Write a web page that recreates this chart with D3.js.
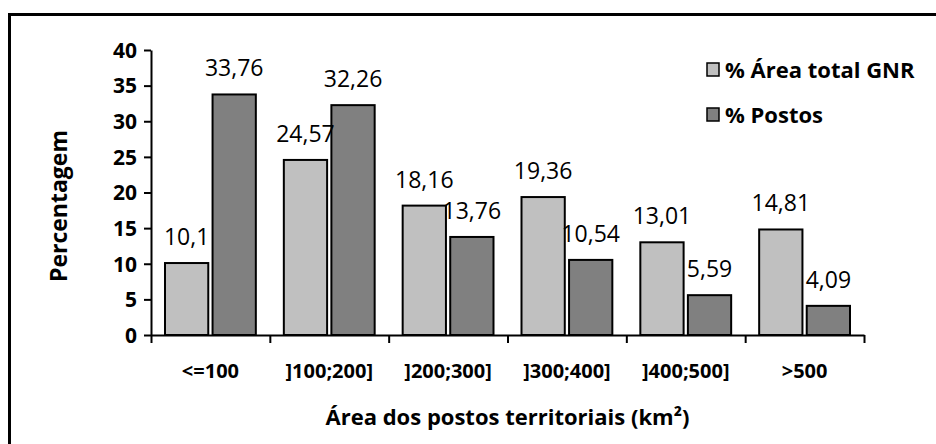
<!DOCTYPE html>
<html>
<head>
<meta charset="utf-8">
<script src="https://cdn.jsdelivr.net/npm/d3@7"></script>
<style>
    body { margin: 0; background: #fff; }
    text { font-family: "Open Sans", sans-serif; fill: #000; }
    .axis path, .axis line { stroke: #000; stroke-width: 2; }
    .axis text { font-weight: bold; font-size: 21px; }
    .axis.cats text { font-size: 20px; }
</style>
</head>
<body>
<svg></svg>
<script>
const categories = ['<=100', ']100;200]', ']200;300]', ']300;400]', ']400;500]', '>500'];
const seriesNames = ['% Área total GNR', '% Postos'];
const areaTotal = [10.1, 24.57, 18.16, 19.36, 13.01, 14.81];
const postos = [33.76, 32.26, 13.76, 10.54, 5.59, 4.09];
const yTicks = [0, 5, 10, 15, 20, 25, 30, 35, 40];
const colors = ['#c0c0c0', '#808080'];

function drawChart() {
    const width = 936;
    const height = 444;
    const plot = { left: 151, right: 864, top: 50, bottom: 335 };

    const svg = d3.select('svg')
        .attr('width', width)
        .attr('height', height);

    // outer frame (only top and left visible in the picture)
    svg.append('rect')
        .attr('x', 9.5)
        .attr('y', 14.5)
        .attr('width', 1000)
        .attr('height', 1000)
        .attr('fill', 'none')
        .attr('stroke', '#000')
        .attr('stroke-width', 3);

    const yScale = d3.scaleLinear()
        .domain([0, 40])
        .range([plot.bottom, plot.top]);

    const xScale = d3.scaleBand()
        .domain(categories)
        .range([plot.left, plot.right])
        .padding(0);

    const x1 = d3.scaleBand()
        .domain(seriesNames)
        .range([14, xScale.bandwidth() - 14])
        .paddingInner(0.09);

    const rows = categories.map((c, i) => ({ cat: c, values: [areaTotal[i], postos[i]] }));

    const groups = svg.selectAll('.grp')
        .data(rows)
        .enter()
        .append('g')
        .attr('transform', d => `translate(${xScale(d.cat)},0)`);

    groups.selectAll('rect')
        .data(d => d.values.map((v, j) => ({ name: seriesNames[j], v: v, j: j })))
        .enter()
        .append('rect')
        .attr('x', d => x1(d.name))
        .attr('y', d => yScale(d.v))
        .attr('width', x1.bandwidth())
        .attr('height', d => yScale(0) - yScale(d.v))
        .attr('fill', d => colors[d.j])
        .attr('stroke', '#000')
        .attr('stroke-width', 2);

    groups.selectAll('.val')
        .data(d => d.values.map((v, j) => ({ name: seriesNames[j], v: v })))
        .enter()
        .append('text')
        .attr('x', d => x1(d.name) + x1.bandwidth() / 2)
        .attr('y', d => yScale(d.v) - 18)
        .attr('text-anchor', 'middle')
        .style('font-size', '23px')
        .text(d => String(d.v).replace('.', ','));

    // y axis
    svg.append('g')
        .attr('class', 'axis')
        .attr('transform', `translate(${plot.left},0)`)
        .call(d3.axisLeft(yScale).tickValues(yTicks).tickSize(7).tickSizeOuter(0).tickPadding(7))
        .selectAll('text')
        .attr('dy', '0.35em');

    // x axis: ticks at category boundaries
    const xEdges = d3.scaleLinear()
        .domain([0, categories.length])
        .range([plot.left, plot.right]);
    svg.append('g')
        .attr('class', 'axis')
        .attr('transform', `translate(0,${plot.bottom})`)
        .call(d3.axisBottom(xEdges).tickValues(d3.range(categories.length + 1)).tickSize(8).tickSizeOuter(0).tickFormat(''));

    // x labels
    const xLab = svg.append('g')
        .attr('class', 'axis cats')
        .attr('transform', `translate(0,${plot.bottom})`)
        .call(d3.axisBottom(xScale).tickSize(0).tickPadding(29));
    xLab.select('.domain').remove();

    svg.append('text')
        .attr('x', (plot.left + plot.right) / 2)
        .attr('y', 425)
        .attr('text-anchor', 'middle')
        .style('font-weight', 'bold')
        .style('font-size', '22px')
        .text('Área dos postos territoriais (km²)');

    svg.append('text')
        .attr('transform', 'translate(67,206) rotate(-90)')
        .attr('text-anchor', 'middle')
        .style('font-weight', 'bold')
        .style('font-size', '23px')
        .text('Percentagem');

    // legend
    const legend = svg.append('g')
        .attr('transform', 'translate(707,63)');
    seriesNames.forEach((s, i) => {
        legend.append('rect')
            .attr('x', 0)
            .attr('y', i * 45)
            .attr('width', 12)
            .attr('height', 13)
            .attr('fill', colors[i])
            .attr('stroke', '#000')
            .attr('stroke-width', 1.5);
        legend.append('text')
            .attr('x', 18)
            .attr('y', i * 45 + 15)
            .style('font-weight', 'bold')
            .style('font-size', '22px')
            .text(s);
    });
}

drawChart();
</script>
</body>
</html>
